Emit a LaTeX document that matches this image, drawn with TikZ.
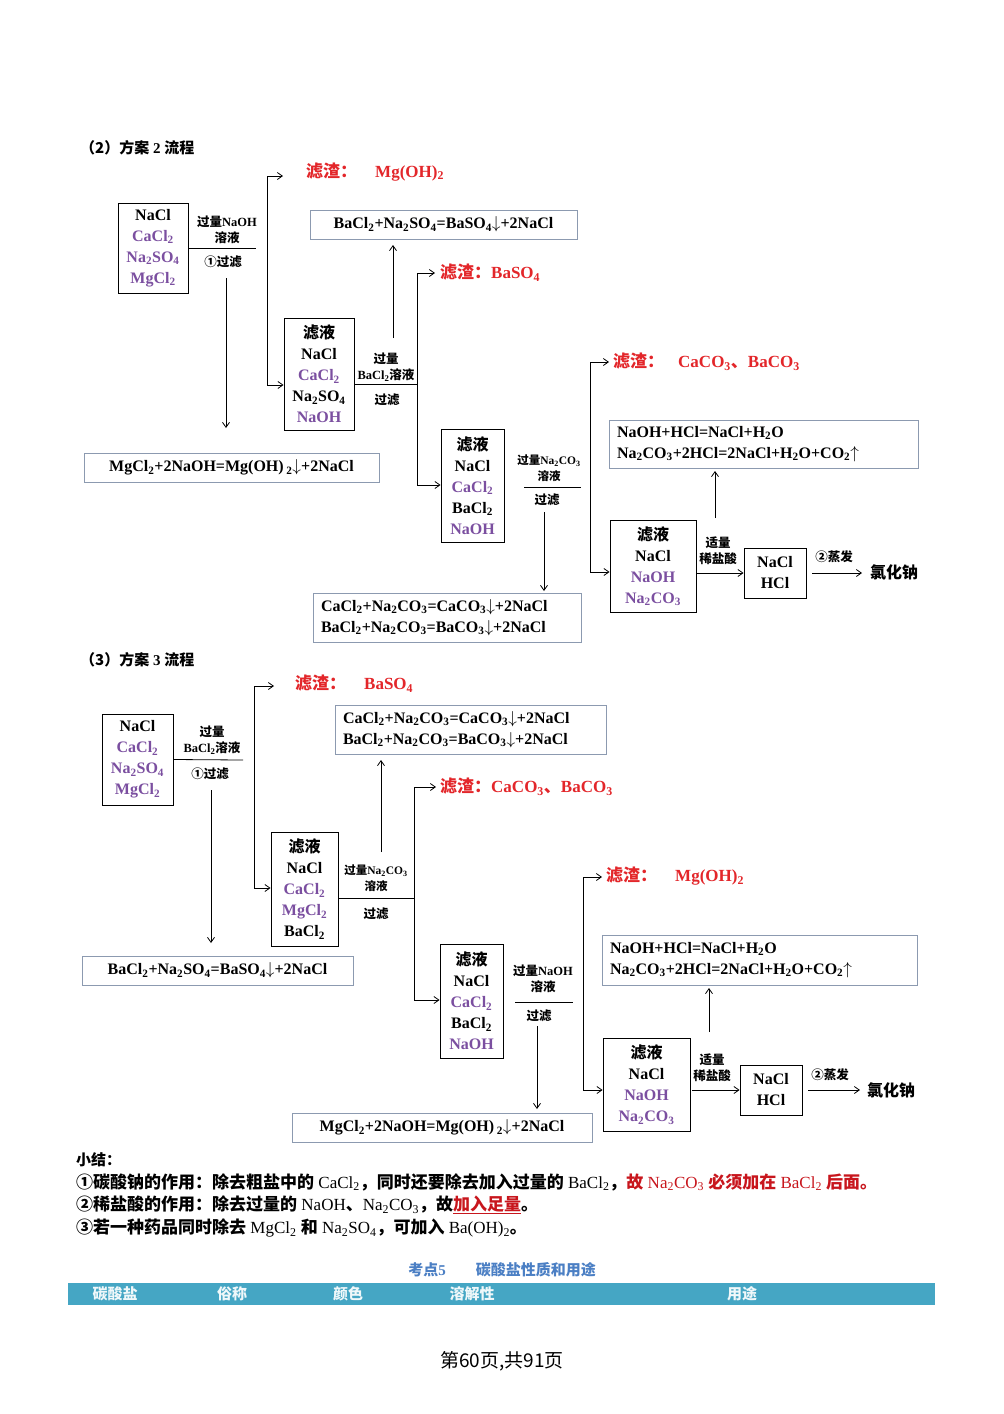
\documentclass[tikz,border=0pt]{standalone}
\usepackage{fontspec}
\setmainfont{Liberation Serif}
\newfontfamily\cjk{Noto Sans CJK SC}
\usetikzlibrary{arrows.meta}
\newcommand\z[1]{{\cjk #1}}
\newcommand\zb[1]{{\cjk\bfseries #1}}
\newcommand\dn[1]{\textsubscript{#1}}
\definecolor{pur}{HTML}{7B4FA0}
\definecolor{rd}{HTML}{E3262A}
\definecolor{drd}{HTML}{C8161D}
\definecolor{eqb}{HTML}{8C9AB0}
\definecolor{barc}{HTML}{45A6C4}
\definecolor{blu}{HTML}{4B7FC4}
\newcommand\p[1]{\textcolor{pur}{#1}}
\begin{document}
\begin{tikzpicture}[x=1pt,y=-1pt,
 box/.style={draw, line width=0.9pt, align=center, font=\fontsize{16}{21}\selectfont\bfseries, inner sep=0pt},
 eq/.style={draw=eqb, line width=1pt, align=left, font=\fontsize{16}{21}\selectfont\bfseries, inner sep=0pt},
 lab/.style={font=\fontsize{12.5}{16}\selectfont\bfseries, inner sep=0pt, align=center},
 slab/.style={font=\fontsize{11.5}{16}\selectfont\bfseries, inner sep=0pt, align=center},
 red/.style={text=rd, font=\fontsize{17}{20}\selectfont\bfseries, anchor=west, inner sep=0pt},
 ttl/.style={font=\fontsize{15}{18}\selectfont\bfseries, anchor=west, inner sep=0pt},
 sum/.style={font=\fontsize{17}{20}\selectfont, anchor=west, inner sep=0pt},
 ln/.style={line width=0.8pt},
 ar/.style={ln,-{Straight Barb[length=5pt,width=7pt]}}]
\useasboundingbox[fill=white] (0,0) rectangle (1004,1414);

% ===== (2) =====
\node[ttl] (t2) at (80,148) {\z{（2）方案} 2 \z{流程}};
\node[box, minimum width=70, minimum height=90] (A2) at (153,248) {NaCl\\\p{CaCl\dn2}\\\p{Na\dn2SO\dn4}\\\p{MgCl\dn2}};
\node[lab] (la2) at (227,230) {\z{过量}NaOH\\\z{溶液}};
\node[lab] (lb2) at (223,262) {\z{①过滤}};
\coordinate (h2a) at (256,248); \draw[ln] (A2.east) -- (h2a);
\coordinate (d2a) at (226,278); \coordinate (d2b) at (226,428); \draw[ar] (d2a) -- (d2b);
\coordinate (v2t) at (267,176); \coordinate (v2b) at (267,385); \coordinate (v2r) at (283,176);
\draw[ln] (v2t) -- (v2b); \draw[ar] (v2t) -- (v2r);
\node[red] (r2a) at (306,172) {\z{滤渣：}\hspace{18pt}Mg(OH)\dn2};
\node[eq, minimum width=267, minimum height=29] (e2a) at (443.5,224.5) {BaCl\dn2+Na\dn2SO\dn4=BaSO\dn4$\downarrow$+2NaCl};
\node[box, minimum width=70, minimum height=112] (B2) at (319,374) {\z{滤液}\\NaCl\\\p{CaCl\dn2}\\Na\dn2SO\dn4\\\p{NaOH}};
\draw[ar] (v2b) -- (B2.west |- v2b);
\node[lab] (lc2) at (386,367) {\z{过量}\\BaCl\dn2\z{溶液}};
\node[lab] (ld2) at (387,400) {\z{过滤}};
\coordinate (h2b1) at (355,384); \coordinate (h2b2) at (417,384); \draw[ln] (h2b1) -- (h2b2);
\coordinate (u2a) at (393,338); \coordinate (u2b) at (393,245); \draw[ar] (u2a) -- (u2b);
\coordinate (v3t) at (417,273); \coordinate (v3b) at (417,485); \coordinate (v3r) at (435,273);
\draw[ln] (v3t) -- (v3b); \draw[ar] (v3t) -- (v3r);
\node[red] (r2b) at (440,273) {\z{滤渣：}BaSO\dn4};
\node[eq, minimum width=295, minimum height=29] (e2b) at (231.5,467.5) {MgCl\dn2+2NaOH=Mg(OH)\,\dn2$\downarrow$+2NaCl};
\node[box, minimum width=63, minimum height=113] (C2) at (472.5,485.5) {\z{滤液}\\NaCl\\\p{CaCl\dn2}\\BaCl\dn2\\\p{NaOH}};
\draw[ar] (v3b) -- (C2.west |- v3b);
\node[slab] (le2) at (549,468) {\z{过量}Na\dn2CO\dn3\\\z{溶液}};
\node[lab] (lf2) at (547,500) {\z{过滤}};
\coordinate (h2c1) at (524,487); \coordinate (h2c2) at (581,487); \draw[ln] (h2c1) -- (h2c2);
\coordinate (d2c) at (544,512); \coordinate (d2d) at (544,591); \draw[ar] (d2c) -- (d2d);
\coordinate (v4t) at (590,362); \coordinate (v4b) at (590,572); \coordinate (v4r) at (609,362);
\draw[ln] (v4t) -- (v4b); \draw[ar] (v4t) -- (v4r);
\node[red] (r2c) at (613,362) {\z{滤渣：}\hspace{14pt}CaCO\dn3\z{、}BaCO\dn3};
\node[eq, minimum width=268, minimum height=49, text width=252] (e2c) at (447,617.5) {CaCl\dn2+Na\dn2CO\dn3=CaCO\dn3$\downarrow$+2NaCl\\BaCl\dn2+Na\dn2CO\dn3=BaCO\dn3$\downarrow$+2NaCl};
\node[eq, minimum width=309, minimum height=48, text width=293] (e2d) at (763.5,444) {NaOH+HCl=NaCl+H\dn2O\\Na\dn2CO\dn3+2HCl=2NaCl+H\dn2O+CO\dn2$\uparrow$};
\node[box, minimum width=86, minimum height=92] (D2) at (653,566) {\z{滤液}\\NaCl\\\p{NaOH}\\\p{Na\dn2CO\dn3}};
\draw[ar] (v4b) -- (D2.west |- v4b);
\coordinate (u2c) at (715,518); \coordinate (u2d) at (715,471); \draw[ar] (u2c) -- (u2d);
\node[lab] (lg2) at (718,551) {\z{适量}\\\z{稀盐酸}};
\node[box, minimum width=62, minimum height=50] (E2) at (775,573) {NaCl\\HCl};
\coordinate (a2e) at (697,573); \draw[ar] (a2e) -- (E2.west);
\node[lab] (lh2) at (834,557) {\z{②蒸发}};
\node[font=\fontsize{16}{20}\selectfont\bfseries, inner sep=0pt] (f2) at (894,572) {\z{氯化钠}};
\coordinate (a2f) at (812,573); \coordinate (a2g) at (862,573); \draw[ar] (a2f) -- (a2g);

% ===== (3) =====
\node[ttl] (t3) at (80,660) {\z{（3）方案} 3 \z{流程}};
\node[box, minimum width=71, minimum height=91] (A3) at (137.5,759.5) {NaCl\\\p{CaCl\dn2}\\\p{Na\dn2SO\dn4}\\\p{MgCl\dn2}};
\node[lab] (la3) at (212,740) {\z{过量}\\BaCl\dn2\z{溶液}};
\node[lab] (lb3) at (210,774) {\z{①过滤}};
\coordinate (h3a) at (243,760); \draw[ln] (A3.east) -- (h3a);
\coordinate (d3a) at (211,790); \coordinate (d3b) at (211,943); \draw[ar] (d3a) -- (d3b);
\coordinate (w2t) at (254,686); \coordinate (w2b) at (254,888); \coordinate (w2r) at (274,686);
\draw[ln] (w2t) -- (w2b); \draw[ar] (w2t) -- (w2r);
\node[red] (r3a) at (295,684) {\z{滤渣：}\hspace{18pt}BaSO\dn4};
\node[eq, minimum width=271, minimum height=49, text width=255] (e3a) at (470.5,729.5) {CaCl\dn2+Na\dn2CO\dn3=CaCO\dn3$\downarrow$+2NaCl\\BaCl\dn2+Na\dn2CO\dn3=BaCO\dn3$\downarrow$+2NaCl};
\node[box, minimum width=67, minimum height=114] (B3) at (304.5,889) {\z{滤液}\\NaCl\\\p{CaCl\dn2}\\\p{MgCl\dn2}\\BaCl\dn2};
\draw[ar] (w2b) -- (B3.west |- w2b);
\node[slab] (lc3) at (376,878) {\z{过量}Na\dn2CO\dn3\\\z{溶液}};
\node[lab] (ld3) at (376,914) {\z{过滤}};
\coordinate (h3b1) at (339,898); \coordinate (h3b2) at (414,898); \draw[ln] (h3b1) -- (h3b2);
\coordinate (u3a) at (381,852); \coordinate (u3b) at (381,760); \draw[ar] (u3a) -- (u3b);
\coordinate (w3t) at (414,787); \coordinate (w3b) at (414,1000); \coordinate (w3r) at (436,787);
\draw[ln] (w3t) -- (w3b); \draw[ar] (w3t) -- (w3r);
\node[red] (r3b) at (440,787) {\z{滤渣：}CaCO\dn3\z{、}BaCO\dn3};
\node[eq, minimum width=271, minimum height=29] (e3b) at (217.5,970.5) {BaCl\dn2+Na\dn2SO\dn4=BaSO\dn4$\downarrow$+2NaCl};
\node[box, minimum width=63, minimum height=114] (C3) at (471.5,1001) {\z{滤液}\\NaCl\\\p{CaCl\dn2}\\BaCl\dn2\\\p{NaOH}};
\draw[ar] (w3b) -- (C3.west |- w3b);
\node[lab] (le3) at (543,979) {\z{过量}NaOH\\\z{溶液}};
\node[lab] (lf3) at (539,1016) {\z{过滤}};
\coordinate (h3c1) at (515,1002); \coordinate (h3c2) at (573,1002); \draw[ln] (h3c1) -- (h3c2);
\coordinate (d3c) at (537,1026); \coordinate (d3d) at (537,1109); \draw[ar] (d3c) -- (d3d);
\coordinate (w4t) at (583,877); \coordinate (w4b) at (583,1090); \coordinate (w4r) at (602,877);
\draw[ln] (w4t) -- (w4b); \draw[ar] (w4t) -- (w4r);
\node[red] (r3c) at (606,876) {\z{滤渣：}\hspace{18pt}Mg(OH)\dn2};
\node[eq, minimum width=300, minimum height=29] (e3c) at (442,1127.5) {MgCl\dn2+2NaOH=Mg(OH)\,\dn2$\downarrow$+2NaCl};
\node[eq, minimum width=315, minimum height=50, text width=299] (e3d) at (759.5,960) {NaOH+HCl=NaCl+H\dn2O\\Na\dn2CO\dn3+2HCl=2NaCl+H\dn2O+CO\dn2$\uparrow$};
\node[box, minimum width=87, minimum height=93] (D3) at (646.5,1084.5) {\z{滤液}\\NaCl\\\p{NaOH}\\\p{Na\dn2CO\dn3}};
\draw[ar] (w4b) -- (D3.west |- w4b);
\coordinate (u3c) at (709,1032); \coordinate (u3d) at (709,988); \draw[ar] (u3c) -- (u3d);
\node[lab] (lg3) at (712,1068) {\z{适量}\\\z{稀盐酸}};
\node[box, minimum width=62, minimum height=50] (E3) at (771,1090) {NaCl\\HCl};
\coordinate (a3e) at (692,1090); \draw[ar] (a3e) -- (E3.west);
\node[lab] (lh3) at (830,1075) {\z{②蒸发}};
\node[font=\fontsize{16}{20}\selectfont\bfseries, inner sep=0pt] (f3) at (891,1090) {\z{氯化钠}};
\coordinate (a3f) at (808,1090); \coordinate (a3g) at (860,1090); \draw[ar] (a3f) -- (a3g);

% ===== summary =====
\node[ttl] (s0) at (76,1160) {\zb{小结：}};
\node[sum] (s1) at (76,1182) {\zb{①碳酸钠的作用：除去粗盐中的} CaCl\dn2\zb{，同时还要除去加入过量的} BaCl\dn2\zb{，}\textcolor{drd}{\zb{故} Na\dn2CO\dn3 \zb{必须加在} BaCl\dn2 \zb{后面。}}};
\node[sum] (s2) at (76,1205) {\zb{②稀盐酸的作用：除去过量的} NaOH\zb{、}Na\dn2CO\dn3\zb{，故}\textcolor{drd}{\underline{\zb{加入足量}}}\zb{。}};
\node[sum] (s3) at (76,1228) {\zb{③若一种药品同时除去} MgCl\dn2 \zb{和} Na\dn2SO\dn4\zb{，可加入} Ba(OH)\dn2\zb{。}};
\node[font=\fontsize{15}{18}\selectfont\bfseries, text=blu, inner sep=0pt] (k5) at (502,1270) {\zb{考点}5\hspace{2em}\zb{碳酸盐性质和用途}};
\fill[barc] (68,1283) rectangle (935,1305);
\begin{scope}[every node/.style={font=\fontsize{15}{18}\selectfont, text=white!92!barc, inner sep=0pt}]
\node (c1) at (115,1294) {\zb{碳酸盐}};
\node (c2) at (232,1294) {\zb{俗称}};
\node (c3) at (348,1294) {\zb{颜色}};
\node (c4) at (472,1294) {\zb{溶解性}};
\node (c5) at (742,1294) {\zb{用途}};
\end{scope}
\node[font=\fontsize{19}{22}\selectfont, inner sep=0pt] (pg) at (502,1361) {\z{第60页,共91页}};
\end{tikzpicture}
\end{document}
